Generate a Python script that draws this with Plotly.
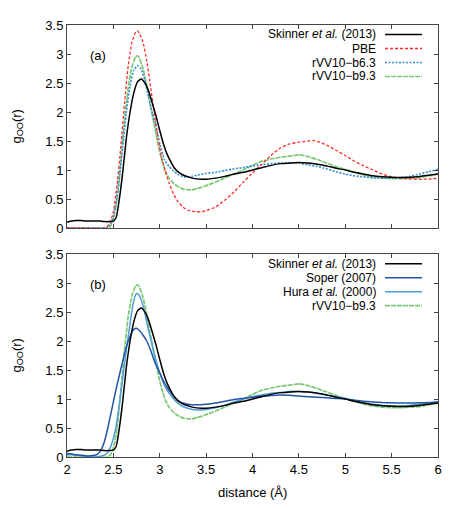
import plotly.graph_objects as go

# ---------------- data ----------------
skinner_r = [2.00, 2.05, 2.10, 2.15, 2.20, 2.25, 2.30, 2.35, 2.40, 2.45, 2.50, 2.53, 2.56, 2.60, 2.64, 2.68,
             2.72, 2.76, 2.80, 2.84, 2.88, 2.92, 2.96, 3.00, 3.04, 3.08, 3.12, 3.16, 3.22, 3.27, 3.35, 3.45,
             3.50, 3.60, 3.70, 3.80, 3.90, 4.00, 4.10, 4.20, 4.30, 4.40, 4.50, 4.60, 4.70, 4.80, 4.90, 5.00,
             5.10, 5.20, 5.30, 5.40, 5.50, 5.60, 5.70, 5.80, 5.90, 6.00]
skinner_g = [0.10, 0.12, 0.13, 0.13, 0.12, 0.12, 0.12, 0.12, 0.11, 0.11, 0.12, 0.18, 0.45, 0.95, 1.55, 2.00,
             2.33, 2.52, 2.57, 2.50, 2.36, 2.15, 1.93, 1.68, 1.45, 1.27, 1.14, 1.03, 0.94, 0.90, 0.86, 0.84,
             0.84, 0.86, 0.89, 0.93, 0.96, 1.00, 1.04, 1.08, 1.11, 1.12, 1.13, 1.12, 1.10, 1.07, 1.03, 1.00,
             0.96, 0.93, 0.90, 0.885, 0.875, 0.87, 0.875, 0.89, 0.91, 0.93]

pbe_r = [2.00, 2.20, 2.40, 2.43, 2.46, 2.50, 2.54, 2.58, 2.62, 2.66, 2.70, 2.74, 2.76, 2.78, 2.82, 2.86,
         2.90, 2.94, 2.98, 3.02, 3.06, 3.10, 3.15, 3.20, 3.25, 3.30, 3.35, 3.40, 3.45, 3.50, 3.60, 3.70,
         3.80, 3.90, 4.00, 4.10, 4.20, 4.30, 4.40, 4.50, 4.60, 4.65, 4.70, 4.80, 4.90, 5.00, 5.10, 5.20,
         5.30, 5.40, 5.50, 5.60, 5.70, 5.80, 5.90, 6.00]
pbe_g = [0.00, 0.00, 0.00, 0.02, 0.08, 0.28, 0.75, 1.40, 2.15, 2.80, 3.20, 3.38, 3.40, 3.36, 3.20, 2.88,
         2.45, 1.98, 1.55, 1.22, 0.98, 0.78, 0.58, 0.45, 0.36, 0.31, 0.29, 0.28, 0.28, 0.30, 0.36, 0.48,
         0.62, 0.79, 0.95, 1.10, 1.25, 1.38, 1.45, 1.48, 1.50, 1.51, 1.49, 1.43, 1.34, 1.25, 1.15, 1.07,
         1.00, 0.93, 0.88, 0.86, 0.845, 0.84, 0.845, 0.855]

b63_r = [2.00, 2.20, 2.42, 2.45, 2.48, 2.52, 2.56, 2.60, 2.64, 2.68, 2.72, 2.76, 2.80, 2.84, 2.88, 2.92,
         2.96, 3.00, 3.05, 3.10, 3.15, 3.20, 3.25, 3.30, 3.35, 3.40, 3.50, 3.60, 3.70, 3.80, 3.90, 4.00,
         4.10, 4.20, 4.30, 4.40, 4.50, 4.60, 4.70, 4.80, 4.90, 5.00, 5.10, 5.20, 5.30, 5.40, 5.50, 5.60,
         5.70, 5.80, 5.90, 6.00]
b63_g = [0.00, 0.00, 0.00, 0.03, 0.10, 0.35, 0.80, 1.40, 2.00, 2.45, 2.72, 2.80, 2.74, 2.55, 2.25, 1.98,
         1.75, 1.45, 1.18, 1.06, 0.98, 0.92, 0.89, 0.88, 0.89, 0.91, 0.94, 0.96, 0.99, 1.02, 1.04, 1.07,
         1.09, 1.11, 1.12, 1.12, 1.12, 1.09, 1.06, 1.02, 0.97, 0.93, 0.90, 0.88, 0.865, 0.86, 0.86, 0.87,
         0.89, 0.93, 0.97, 1.01]

b93_r = [2.00, 2.20, 2.44, 2.47, 2.50, 2.54, 2.58, 2.62, 2.66, 2.70, 2.74, 2.76, 2.78, 2.82, 2.86, 2.90,
         2.94, 2.98, 3.02, 3.06, 3.10, 3.15, 3.20, 3.25, 3.30, 3.35, 3.40, 3.45, 3.50, 3.60, 3.70, 3.80,
         3.90, 4.00, 4.10, 4.20, 4.30, 4.40, 4.50, 4.55, 4.60, 4.70, 4.80, 4.90, 5.00, 5.10, 5.20, 5.30,
         5.40, 5.50, 5.60, 5.70, 5.80, 5.90, 6.00]
b93_g = [0.00, 0.00, 0.00, 0.04, 0.15, 0.50, 1.15, 1.85, 2.42, 2.78, 2.95, 2.97, 2.93, 2.75, 2.45, 2.10,
         1.78, 1.45, 1.18, 0.98, 0.86, 0.77, 0.71, 0.67, 0.66, 0.66, 0.68, 0.70, 0.73, 0.79, 0.86, 0.93,
         1.00, 1.08, 1.15, 1.19, 1.22, 1.24, 1.26, 1.25, 1.23, 1.18, 1.12, 1.06, 1.01, 0.96, 0.91, 0.88,
         0.86, 0.85, 0.85, 0.86, 0.87, 0.90, 0.93]

soper_r = [2.00, 2.05, 2.10, 2.15, 2.20, 2.25, 2.30, 2.33, 2.36, 2.40, 2.44, 2.48, 2.52, 2.56, 2.60, 2.64,
           2.68, 2.72, 2.75, 2.78, 2.82, 2.86, 2.90, 2.95, 3.00, 3.05, 3.10, 3.15, 3.20, 3.25, 3.30, 3.40,
           3.50, 3.60, 3.70, 3.80, 3.90, 4.00, 4.10, 4.20, 4.30, 4.40, 4.50, 4.60, 4.70, 4.80, 4.90, 5.00,
           5.10, 5.20, 5.30, 5.40, 5.50, 5.60, 5.70, 5.80, 5.90, 6.00]
soper_g = [0.06, 0.05, 0.04, 0.03, 0.02, 0.02, 0.03, 0.05, 0.10, 0.25, 0.50, 0.80, 1.10, 1.38, 1.65, 1.90,
           2.08, 2.20, 2.22, 2.18, 2.10, 2.00, 1.85, 1.62, 1.45, 1.28, 1.15, 1.05, 0.97, 0.93, 0.91, 0.90,
           0.91, 0.93, 0.96, 0.99, 1.01, 1.03, 1.05, 1.06, 1.07, 1.065, 1.05, 1.04, 1.03, 1.02, 1.01, 1.00,
           0.98, 0.96, 0.95, 0.94, 0.935, 0.93, 0.93, 0.935, 0.94, 0.95]

hura_r = [2.00, 2.05, 2.10, 2.15, 2.20, 2.25, 2.30, 2.35, 2.40, 2.44, 2.48, 2.52, 2.56, 2.60, 2.64, 2.68,
          2.71, 2.74, 2.76, 2.79, 2.83, 2.87, 2.91, 2.95, 3.00, 3.05, 3.10, 3.15, 3.20, 3.25, 3.30, 3.40,
          3.50, 3.60, 3.70, 3.80, 3.90, 4.00, 4.10, 4.20, 4.30, 4.40, 4.50, 4.60, 4.70, 4.80, 4.90, 5.00,
          5.10, 5.20, 5.30, 5.40, 5.50, 5.60, 5.70, 5.80, 5.90, 6.00]
hura_g = [0.04, 0.04, 0.03, 0.02, 0.01, 0.00, 0.00, 0.01, 0.03, 0.08, 0.22, 0.45, 0.85, 1.35, 1.85, 2.30,
          2.62, 2.80, 2.82, 2.75, 2.55, 2.25, 1.98, 1.72, 1.45, 1.24, 1.10, 1.00, 0.92, 0.87, 0.84, 0.81,
          0.82, 0.85, 0.89, 0.95, 1.00, 1.04, 1.07, 1.10, 1.11, 1.13, 1.13, 1.12, 1.10, 1.07, 1.04, 1.01,
          0.97, 0.93, 0.91, 0.89, 0.88, 0.88, 0.89, 0.91, 0.93, 0.95]

y_ticks = [0, 0.5, 1, 1.5, 2, 2.5, 3, 3.5]
x_ticks = [2, 2.5, 3, 3.5, 4, 4.5, 5, 5.5, 6]

# ---------------- layout geometry (window pixels) ----------------
WIN_W, WIN_H = 463, 509
OFF = 8                       # default page body margin of the html page
BOX_X0, BOX_X1 = 67, 438      # plot box, window pixels
TOP_Y0, TOP_Y1 = 25, 228
BOT_Y0, BOT_Y1 = 254, 457
W, H = WIN_W - OFF, WIN_H - OFF
ML, MR = BOX_X0 - OFF, W - (BOX_X1 - OFF)
MT, MB = TOP_Y0 - OFF, H - (BOT_Y1 - OFF)
FONT = "Liberation Sans, Arial, Helvetica, sans-serif"

STY = {
    "skinner": dict(color="#000000", width=1.5, dash="solid"),
    "pbe": dict(color="#ff2a2a", width=1.3, dash="3px,2px"),
    "b63": dict(color="#3a8fd6", width=1.7, dash="2px,1.5px"),
    "b93": dict(color="#7cc874", width=1.7, dash="5px,1px"),
    "soper": dict(color="#2454a6", width=1.5, dash="solid"),
    "hura": dict(color="#4f9dd8", width=1.5, dash="solid"),
}

NAMES = {
    "skinner": "Skinner <i>et al.</i> (2013)",
    "pbe": "PBE",
    "b63": "rVV10\u2212b6.3",
    "b93": "rVV10\u2212b9.3",
    "soper": "Soper (2007)",
    "hura": "Hura <i>et al.</i> (2000)",
}

DATA = {
    "skinner": (skinner_r, skinner_g),
    "pbe": (pbe_r, pbe_g),
    "b63": (b63_r, b63_g),
    "b93": (b93_r, b93_g),
    "soper": (soper_r, soper_g),
    "hura": (hura_r, hura_g),
}

top_keys = ["skinner", "pbe", "b63", "b93"]
bot_keys = ["skinner", "soper", "hura", "b93"]

fig = go.Figure()
for k in ["b93", "b63", "pbe", "skinner"]:
    r, g = DATA[k]
    fig.add_trace(go.Scatter(x=r, y=g, mode="lines", line=dict(STY[k], shape="spline", smoothing=0.5),
                             xaxis="x", yaxis="y", showlegend=False, name=NAMES[k]))
for k in ["b93", "hura", "soper", "skinner"]:
    r, g = DATA[k]
    fig.add_trace(go.Scatter(x=r, y=g, mode="lines", line=dict(STY[k], shape="spline", smoothing=0.5),
                             xaxis="x2", yaxis="y2", showlegend=False, name=NAMES[k]))

plot_w = BOX_X1 - BOX_X0
plot_h = BOT_Y1 - TOP_Y0


def px_x(px):
    return (px - BOX_X0) / plot_w


def px_y(py):
    return (BOT_Y1 - py) / plot_h


annotations = []
shapes = []


def add_legend(keys, row0):
    for i, k in enumerate(keys):
        yy = px_y(row0 + 14 * i)
        annotations.append(dict(text=NAMES[k], x=px_x(378), y=yy, xref="paper", yref="paper",
                                xanchor="right", yanchor="middle", showarrow=False,
                                font=dict(family=FONT, size=12, color="#000")))
        st = STY[k]
        shapes.append(dict(type="line", xref="paper", yref="paper", x0=px_x(385), x1=px_x(422),
                           y0=yy, y1=yy, line=dict(color=st["color"], width=st["width"], dash=st["dash"])))


add_legend(top_keys, 34.5)
add_legend(bot_keys, 263.7)

annotations.append(dict(text="(a)", x=2.33, y=2.98, xref="x", yref="y", showarrow=False,
                        font=dict(family=FONT, size=13, color="#000")))
annotations.append(dict(text="(b)", x=2.33, y=2.97, xref="x2", yref="y2", showarrow=False,
                        font=dict(family=FONT, size=13, color="#000")))

# axis titles
for yc in [(TOP_Y0 + TOP_Y1) / 2, (BOT_Y0 + BOT_Y1) / 2]:
    annotations.append(dict(text="g<sub>OO</sub>(r)", x=px_x(17), y=px_y(yc), xref="paper", yref="paper",
                            textangle=-90, xanchor="center", yanchor="middle", showarrow=False,
                            borderpad=0, font=dict(family=FONT, size=13, color="#000")))
annotations.append(dict(text="distance (Å)", x=px_x((BOX_X0 + BOX_X1) / 2), y=px_y(493), xref="paper",
                        yref="paper", xanchor="center", yanchor="middle", showarrow=False,
                        font=dict(family=FONT, size=13, color="#000")))

axis_common = dict(showline=True, linecolor="#444", linewidth=1, mirror="ticks", ticks="inside",
                   ticklen=4, tickcolor="#444", showgrid=False, zeroline=False, automargin=False,
                   tickfont=dict(family=FONT, size=13, color="#000"))

fig.update_layout(
    width=W, height=H,
    margin=dict(l=ML, r=MR, t=MT, b=MB, autoexpand=False),
    paper_bgcolor="white", plot_bgcolor="white",
    showlegend=False,
    xaxis=dict(axis_common, range=[2, 6], tickvals=x_ticks, showticklabels=False, anchor="y"),
    yaxis=dict(axis_common, range=[0, 3.5], tickvals=y_ticks, domain=[px_y(TOP_Y1), 1], anchor="x"),
    xaxis2=dict(axis_common, range=[2, 6], tickvals=x_ticks, anchor="y2"),
    yaxis2=dict(axis_common, range=[0, 3.5], tickvals=y_ticks, domain=[0, px_y(BOT_Y0)], anchor="x2"),
    annotations=annotations,
    shapes=shapes,
)

fig.write_html("out.html")
